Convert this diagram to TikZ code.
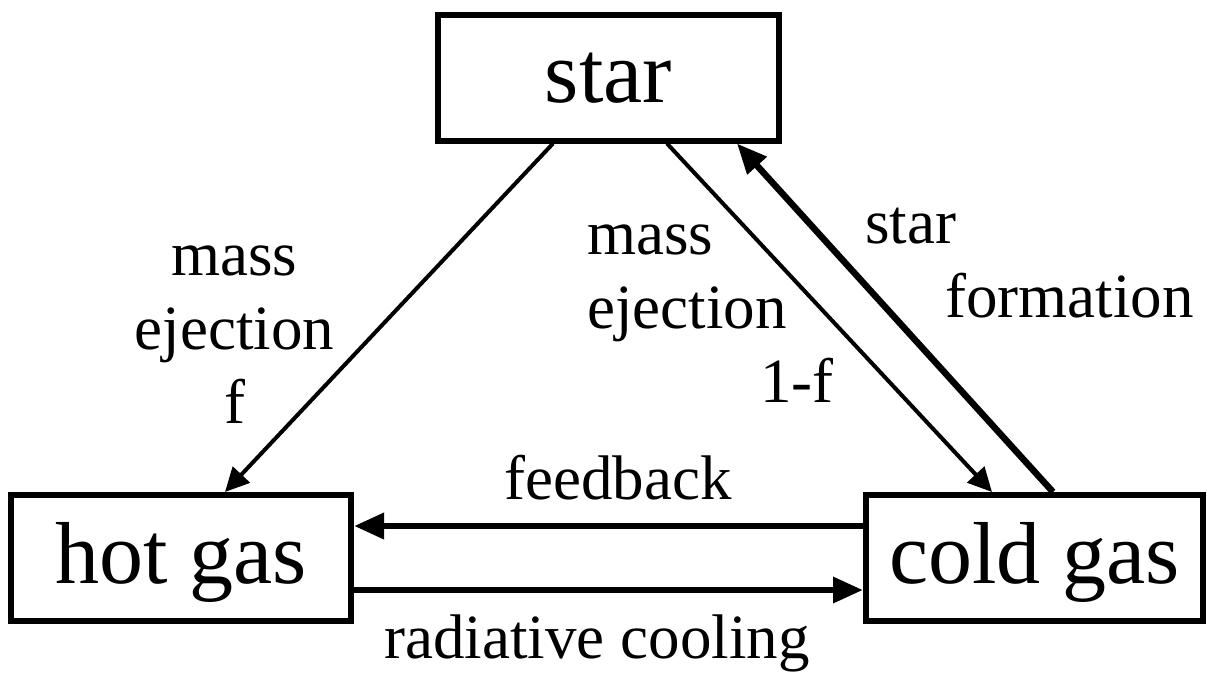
\documentclass[tikz,border=0pt]{standalone}
\usepackage{fontspec}
\setmainfont{Liberation Serif}
\usepackage{tikz}
\usetikzlibrary{arrows.meta,positioning}
\tikzset{
  box/.style={rectangle, draw=black, line width=3pt, fill=white, inner sep=0pt,
              minimum height=63pt, text height=31pt, text depth=6pt,
              align=center, font=\fontsize{44}{50}\selectfont},
  arrow/.style={-{Triangle[length=15pt, width=12.5pt]}, line width=3.25pt},
  arrowthin/.style={-{Triangle[length=12pt, width=11.5pt]}, line width=2pt},
  label/.style={inner sep=0pt, font=\fontsize{31.5}{37}\selectfont},
}
\begin{document}
\begin{tikzpicture}[x=0.5pt, y=-0.5pt]
\useasboundingbox (0,0) rectangle (1207,677);
% reservoirs
\node[box, minimum width=170.5pt] (star) at (608.5,77.5) {star};
\node[box, minimum width=170pt] (hot) at (181,558) {hot gas};
\node[box, minimum width=168.5pt] (cold) at (1034.5,558) {cold gas};
% flows
\draw[arrowthin] ([xshift=-27.75pt]star.south) -- ([xshift=22pt]hot.north);
\draw[arrowthin] ([xshift=29.25pt]star.south) -- ([xshift=-21.25pt]cold.north);
\draw[arrow] ([xshift=9.25pt]cold.north) -- ([xshift=64.25pt]star.south);
\draw[arrow] ([yshift=16pt]cold.west) -- ([yshift=16pt]hot.east);
\draw[arrow] ([yshift=-16pt]hot.east) -- ([yshift=-16pt]cold.west);
% labels (base = last line)
\node[label, align=center, anchor=base] (ejhot) at (234.5,423) {mass\\ejection\\f};
\node[label, align=left, anchor=base west] (ejcold) at (587,402) {mass\\ejection\\\hspace*{86.5pt}1-f};
\node[label, align=left, anchor=base west] (sf) at (865,317) {star\\\hspace*{40pt}formation};
\node[label, anchor=base] (fb) at (618,499) {feedback};
\node[label, anchor=base] (rc) at (597,658) {radiative cooling};
\end{tikzpicture}
\end{document}
